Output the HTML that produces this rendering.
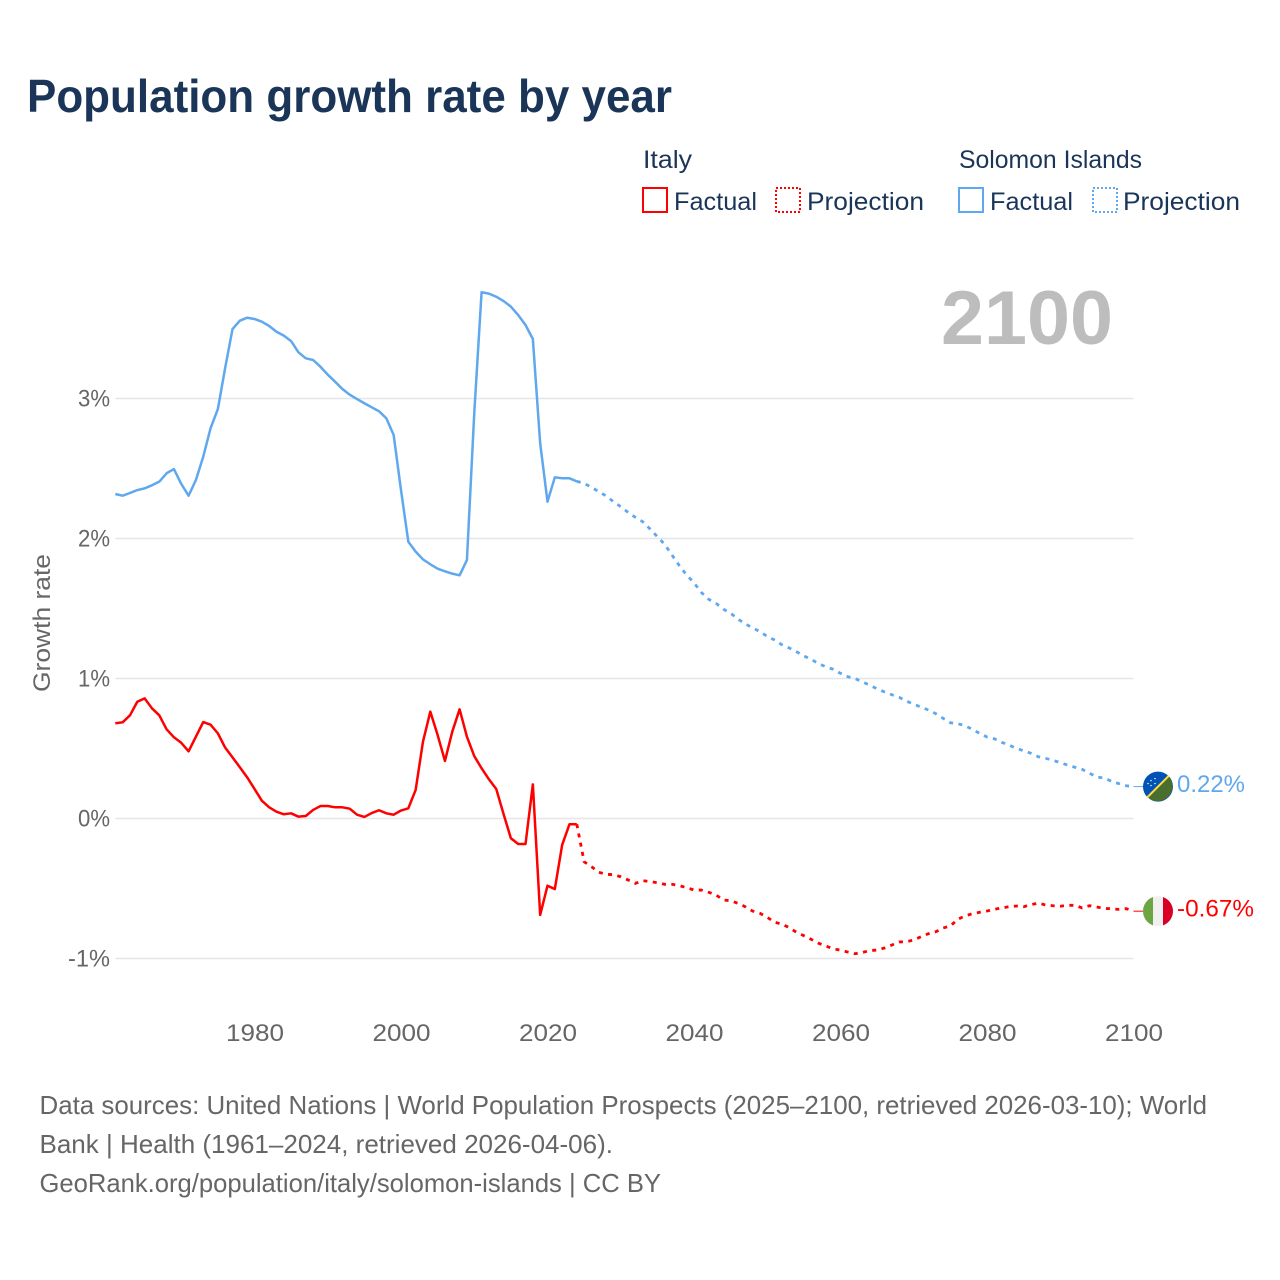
<!DOCTYPE html>
<html lang="en">
<head>
<meta charset="utf-8">
<title>Population growth rate by year</title>
<style>
html,body{margin:0;padding:0;background:#fff;}
svg{display:block;font-family:"Liberation Sans",sans-serif;}
</style>
</head>
<body>
<svg id="chart" xmlns="http://www.w3.org/2000/svg" width="1280" height="1280" viewBox="0 0 1280 1280">
  <rect width="1280" height="1280" fill="#ffffff"/>
  <text x="27" y="112" font-size="46" font-weight="700" fill="#1a3557" textLength="645" lengthAdjust="spacingAndGlyphs">Population growth rate by year</text>

  <g font-size="25" fill="#1a3557">
    <text x="643" y="168" textLength="49" lengthAdjust="spacingAndGlyphs">Italy</text>
    <rect x="643" y="188" width="24" height="24" fill="none" stroke="#ff0000" stroke-width="2"/>
    <text x="674" y="210" textLength="83" lengthAdjust="spacingAndGlyphs">Factual</text>
    <rect x="776" y="188" width="24" height="24" fill="none" stroke="#ff0000" stroke-width="2" stroke-dasharray="2 2"/>
    <text x="807" y="210" textLength="117" lengthAdjust="spacingAndGlyphs">Projection</text>
    <text x="959" y="168" textLength="183" lengthAdjust="spacingAndGlyphs">Solomon Islands</text>
    <rect x="959" y="188" width="24" height="24" fill="none" stroke="#5fa8ee" stroke-width="2"/>
    <text x="990" y="210" textLength="83" lengthAdjust="spacingAndGlyphs">Factual</text>
    <rect x="1093" y="188" width="24" height="24" fill="none" stroke="#5fa8ee" stroke-width="2" stroke-dasharray="2 2"/>
    <text x="1123" y="210" textLength="117" lengthAdjust="spacingAndGlyphs">Projection</text>
  </g>

  <text x="941" y="344" font-size="76" font-weight="700" fill="#bdbdbd" textLength="172" lengthAdjust="spacingAndGlyphs">2100</text>

  <g id="grid"></g>
  <g id="yticks"></g>
  <g id="xticks"></g>
  <text transform="translate(50,692) rotate(-90)" font-size="24" fill="#666666" textLength="138" lengthAdjust="spacingAndGlyphs">Growth rate</text>
  <g id="series"></g>
  <g id="endmarks"></g>

  <g font-size="26" fill="#666666">
    <text x="39.5" y="1114" textLength="1167.5" lengthAdjust="spacingAndGlyphs">Data sources: United Nations | World Population Prospects (2025–2100, retrieved 2026-03-10); World</text>
    <text x="39.5" y="1153" textLength="573.5" lengthAdjust="spacingAndGlyphs">Bank | Health (1961–2024, retrieved 2026-04-06).</text>
    <text x="39.5" y="1192" textLength="621.5" lengthAdjust="spacingAndGlyphs">GeoRank.org/population/italy/solomon-islands | CC BY</text>
  </g>
</svg>

<script>
const xTickYears = [1980, 2000, 2020, 2040, 2060, 2080, 2100];
const yTickValues = [-1, 0, 1, 2, 3];
const factualStartYear = 1961;
const projectionStartYear = 2024;
const endValueLabels = ['0.22%', '-0.67%'];

const italyFactual = [0.68,0.687,0.737,0.834,0.858,0.787,0.737,0.637,0.58,0.541,0.48,0.584,0.689,0.67,0.608,0.506,0.437,0.366,0.294,0.211,0.127,0.08,0.049,0.03,0.037,0.013,0.018,0.061,0.089,0.089,0.08,0.08,0.07,0.027,0.011,0.039,0.059,0.037,0.027,0.057,0.073,0.204,0.549,0.763,0.596,0.411,0.62,0.78,0.584,0.446,0.359,0.28,0.211,0.032,-0.141,-0.182,-0.182,0.244,-0.689,-0.48,-0.504,-0.189,-0.041,-0.041];
const italyProjection = [-0.041,-0.309,-0.344,-0.384,-0.399,-0.401,-0.416,-0.439,-0.463,-0.444,-0.451,-0.459,-0.47,-0.47,-0.48,-0.494,-0.511,-0.511,-0.527,-0.546,-0.582,-0.587,-0.606,-0.63,-0.661,-0.677,-0.706,-0.741,-0.754,-0.78,-0.813,-0.837,-0.863,-0.891,-0.911,-0.93,-0.941,-0.954,-0.966,-0.956,-0.944,-0.939,-0.925,-0.904,-0.882,-0.88,-0.868,-0.844,-0.823,-0.809,-0.782,-0.768,-0.72,-0.696,-0.68,-0.67,-0.661,-0.649,-0.639,-0.63,-0.625,-0.63,-0.616,-0.604,-0.618,-0.623,-0.627,-0.62,-0.62,-0.639,-0.623,-0.632,-0.642,-0.645,-0.649,-0.644,-0.662];
const solomonFactual = [2.318,2.306,2.325,2.346,2.358,2.38,2.406,2.466,2.496,2.39,2.306,2.418,2.584,2.787,2.925,3.22,3.496,3.556,3.577,3.568,3.549,3.518,3.477,3.449,3.41,3.33,3.287,3.275,3.227,3.17,3.12,3.068,3.027,2.996,2.966,2.937,2.909,2.858,2.739,2.346,1.977,1.906,1.851,1.816,1.784,1.766,1.749,1.737,1.846,2.894,3.759,3.749,3.727,3.696,3.656,3.596,3.525,3.425,2.68,2.263,2.437,2.43,2.43,2.408];
const solomonProjection = [2.408,2.394,2.366,2.335,2.304,2.263,2.227,2.187,2.151,2.12,2.068,2.013,1.958,1.882,1.806,1.739,1.684,1.615,1.566,1.537,1.496,1.466,1.425,1.389,1.363,1.334,1.301,1.275,1.241,1.218,1.191,1.161,1.137,1.106,1.084,1.066,1.037,1.013,0.999,0.977,0.951,0.927,0.904,0.884,0.866,0.839,0.816,0.796,0.775,0.749,0.716,0.684,0.677,0.663,0.637,0.608,0.582,0.57,0.544,0.525,0.501,0.484,0.466,0.441,0.43,0.416,0.399,0.382,0.366,0.351,0.323,0.296,0.289,0.266,0.249,0.234,0.228];

const SVG_NS = 'http://www.w3.org/2000/svg';
const RED = '#ff0000';
const BLUE = '#5fa8ee';

function xScale(year) { return 1133.5 + (year - 2100) * 7.325; }
function yScale(rate) { return 818.5 - rate * 140; }

function make(tag, attrs, parent, text) {
  const el = document.createElementNS(SVG_NS, tag);
  for (const k in attrs) el.setAttribute(k, attrs[k]);
  if (text !== undefined) el.textContent = text;
  parent.appendChild(el);
  return el;
}

const grid = document.getElementById('grid');
const yticks = document.getElementById('yticks');
const xticks = document.getElementById('xticks');
const series = document.getElementById('series');
const endmarks = document.getElementById('endmarks');

yTickValues.forEach(function (v) {
  const line = make('line', {x1: xScale(1961), x2: xScale(2100), y1: yScale(v), y2: yScale(v), stroke: '#e6e6ea', 'stroke-width': 1.5}, grid);
  
  
  const label = make('text', {x: 110, y: yScale(v) + 8, 'text-anchor': 'end', 'font-size': 24, fill: '#666666', textLength: v < 0 ? 42 : 32, lengthAdjust: 'spacingAndGlyphs'}, yticks, v + '%');
  
  
});

xTickYears.forEach(function (yr) {
  const label = make('text', {x: xScale(yr) + 0.5, y: 1041, 'text-anchor': 'middle', 'font-size': 24, fill: '#666666', textLength: 58, lengthAdjust: 'spacingAndGlyphs'}, xticks, String(yr));
  
  
});

function pathFrom(values, startYear) {
  return values.map(function (v, i) {
    return (i ? 'L' : 'M') + xScale(startYear + i).toFixed(2) + ' ' + yScale(v).toFixed(2);
  }).join('');
}

const italyFactualLine = make('path', {d: pathFrom(italyFactual, factualStartYear), fill: 'none', stroke: RED, 'stroke-width': 2.5, 'stroke-linejoin': 'round'}, series);



const italyProjectionLine = make('path', {d: pathFrom(italyProjection, projectionStartYear), fill: 'none', stroke: RED, 'stroke-width': 2.8, 'stroke-dasharray': '4 5.4'}, series);



const solomonFactualLine = make('path', {d: pathFrom(solomonFactual, factualStartYear), fill: 'none', stroke: BLUE, 'stroke-width': 2.5, 'stroke-linejoin': 'round'}, series);



const solomonProjectionLine = make('path', {d: pathFrom(solomonProjection, projectionStartYear), fill: 'none', stroke: BLUE, 'stroke-width': 2.8, 'stroke-dasharray': '4 5.4'}, series);



const solomonEnd = solomonProjection[solomonProjection.length - 1];
const italyEnd = italyProjection[italyProjection.length - 1];
const markerX = xScale(2100) + 24.5;

const solomonLeader = make('line', {x1: xScale(2100), x2: markerX - 15, y1: yScale(solomonEnd), y2: yScale(solomonEnd), stroke: BLUE, 'stroke-width': 1}, endmarks);



const italyLeader = make('line', {x1: xScale(2100), x2: markerX - 15, y1: yScale(italyEnd), y2: yScale(italyEnd), stroke: RED, 'stroke-width': 1}, endmarks);



const solomonFlag = make('g', {transform: 'translate(' + markerX + ',' + yScale(solomonEnd) + ')'}, endmarks);


make('circle', {r: 15, fill: '#0052b4'}, solomonFlag);
make('path', {d: 'M-10.6 10.6A15 15 0 0 0 10.6 -10.6Z', fill: '#496e2d'}, solomonFlag);
make('line', {x1: -10.8, y1: 10.8, x2: 10.8, y2: -10.8, stroke: '#ffda44', 'stroke-width': 2}, solomonFlag);
[[-7, -6], [-3, -8], [-7, -1], [-3, -3], [-10, -3]].forEach(function (p) {
  make('circle', {cx: p[0], cy: p[1], r: 0.7, fill: '#ffffff'}, solomonFlag);
});

const italyFlag = make('g', {transform: 'translate(' + markerX + ',' + yScale(italyEnd) + ')'}, endmarks);


make('circle', {r: 15, fill: '#f0f0f0'}, italyFlag);
make('path', {d: 'M-5 -14.14A15 15 0 0 0 -5 14.14Z', fill: '#6da544'}, italyFlag);
make('path', {d: 'M5 -14.14A15 15 0 0 1 5 14.14Z', fill: '#d80027'}, italyFlag);

const solomonValue = make('text', {x: 1177, y: yScale(solomonEnd) + 5.5, 'font-size': 24, fill: BLUE, textLength: 68, lengthAdjust: 'spacingAndGlyphs'}, endmarks, endValueLabels[0]);



const italyValue = make('text', {x: 1177, y: yScale(italyEnd) + 5.5, 'font-size': 24, fill: RED, textLength: 77, lengthAdjust: 'spacingAndGlyphs'}, endmarks, endValueLabels[1]);


</script>
</body>
</html>
